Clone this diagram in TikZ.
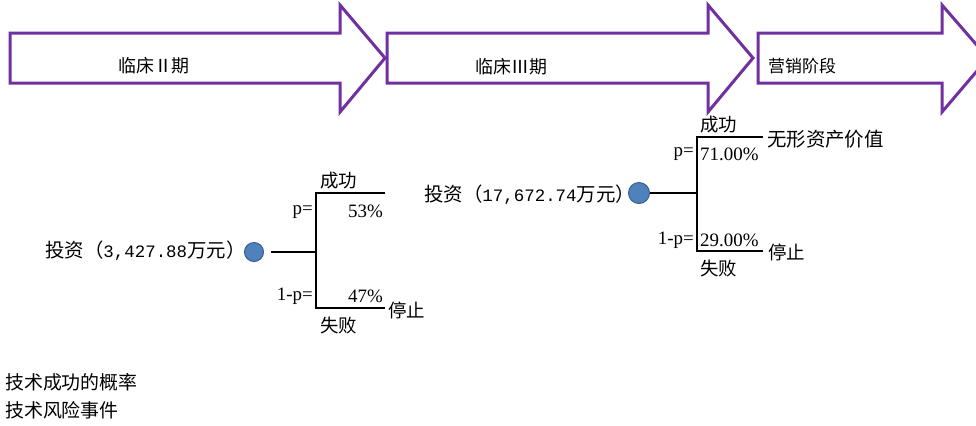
\documentclass[tikz,border=0pt]{standalone}
\usepackage{fontspec}
\setmainfont{Liberation Serif}
\newfontfamily\cjk{Noto Sans CJK SC}
\newfontfamily\monodig{Liberation Mono}
\newcommand\numtxt[1]{{\monodig\fontsize{17.5}{18}\selectfont #1}}
\definecolor{arrowpurple}{HTML}{7030A0}
\definecolor{dotblue}{HTML}{4F81BD}
\definecolor{dotedge}{HTML}{385D8A}
\tikzset{
  stage/.style={draw=arrowpurple, line width=3bp, line join=miter},
  stagelab/.style={inner sep=0, anchor=west, font=\cjk\fontsize{17}{17}\selectfont},
  lab/.style={inner sep=0, anchor=west, font=\cjk\fontsize{18.5}{18.5}\selectfont},
  invlab/.style={inner sep=0, anchor=west, font=\cjk\fontsize{19.5}{19.5}\selectfont},
  note/.style={inner sep=0, anchor=west, font=\cjk\fontsize{19}{19}\selectfont},
  pct/.style={inner sep=0, font=\fontsize{19}{19}\selectfont},
  dot/.style={circle, fill=dotblue, draw=dotedge, line width=1bp, minimum size=19bp, inner sep=0},
  branch/.style={line width=1.2bp}
}
\begin{document}
\begin{tikzpicture}[x=1bp,y=-1bp]
\useasboundingbox (0,0) rectangle (976,425);
\clip (0,0) rectangle (976,425);
% stage arrows
\draw[stage] (10,33) -- (340,33) -- (340,5) -- (385,58) -- (340,112) -- (340,83) -- (10,83) -- cycle;
\draw[stage] (387,33) -- (708,33) -- (708,5) -- (753,58) -- (708,112) -- (708,83) -- (387,83) -- cycle;
\draw[stage] (758,33) -- (942,33) -- (942,5) -- (988,58) -- (942,112) -- (942,83) -- (758,83) -- cycle;
\node[stagelab, font=\cjk\fontsize{18}{18}\selectfont] (s1) at (118,66) {临床Ⅱ期};
\node[stagelab, font=\cjk\fontsize{18}{18}\selectfont] (s2) at (475,67) {临床Ⅲ期};
\node[stagelab] (s3) at (768,66) {营销阶段};
% tree 1
\node[invlab] (inv1) at (45,251) {投资（\numtxt{3,427.88}万元）};
\node[dot] (c1) at (254,252) {};
\coordinate (a1) at (271,252);
\coordinate (j1) at (316,252);
\coordinate (t1) at (316,193);
\coordinate (b1) at (316,308);
\coordinate (te1) at (385,193);
\coordinate (be1) at (385,308);
\draw[branch] (a1) -- (j1);
\draw[branch] (te1) -- (t1) -- (b1) -- (be1);
\node[lab] (ok1) at (320,181) {成功};
\node[lab] (ng1) at (320,325) {失败};
\node[lab] (st1) at (388,310) {停止};
\node[pct, anchor=east] (p1) at (313,212) {p=};
\node[pct, anchor=east] (q1) at (313,296) {1-p=};
\node[pct, anchor=east] (v1) at (383,211) {53\%};
\node[pct, anchor=east] (w1) at (383,296) {47\%};
% tree 2
\node[invlab] (inv2) at (424,195) {投资（\numtxt{17,672.74}万元）};
\node[dot, minimum size=21bp] (c2) at (639,193) {};
\coordinate (j2) at (697,193);
\coordinate (t2) at (697,137);
\coordinate (b2) at (697,251);
\coordinate (te2) at (763,137);
\coordinate (be2) at (763,251);
\draw[branch] (c2.east) -- (j2);
\draw[branch] (te2) -- (t2) -- (b2) -- (be2);
\node[lab] (ok2) at (700,125) {成功};
\node[lab] (ng2) at (700,268) {失败};
\node[lab, font=\cjk\fontsize{19.5}{19.5}\selectfont] (iv2) at (767,139) {无形资产价值};
\node[lab] (st2) at (768,252) {停止};
\node[pct, anchor=east] (p2) at (694,154) {p=};
\node[pct, anchor=east] (q2) at (694,240) {1-p=};
\node[pct, anchor=west] (v2) at (700,154) {71.00\%};
\node[pct, anchor=west] (w2) at (700,240) {29.00\%};
% notes
\node[note] (n1) at (5,382) {技术成功的概率};
\node[note] (n2) at (5,410) {技术风险事件};
\end{tikzpicture}
\end{document}
